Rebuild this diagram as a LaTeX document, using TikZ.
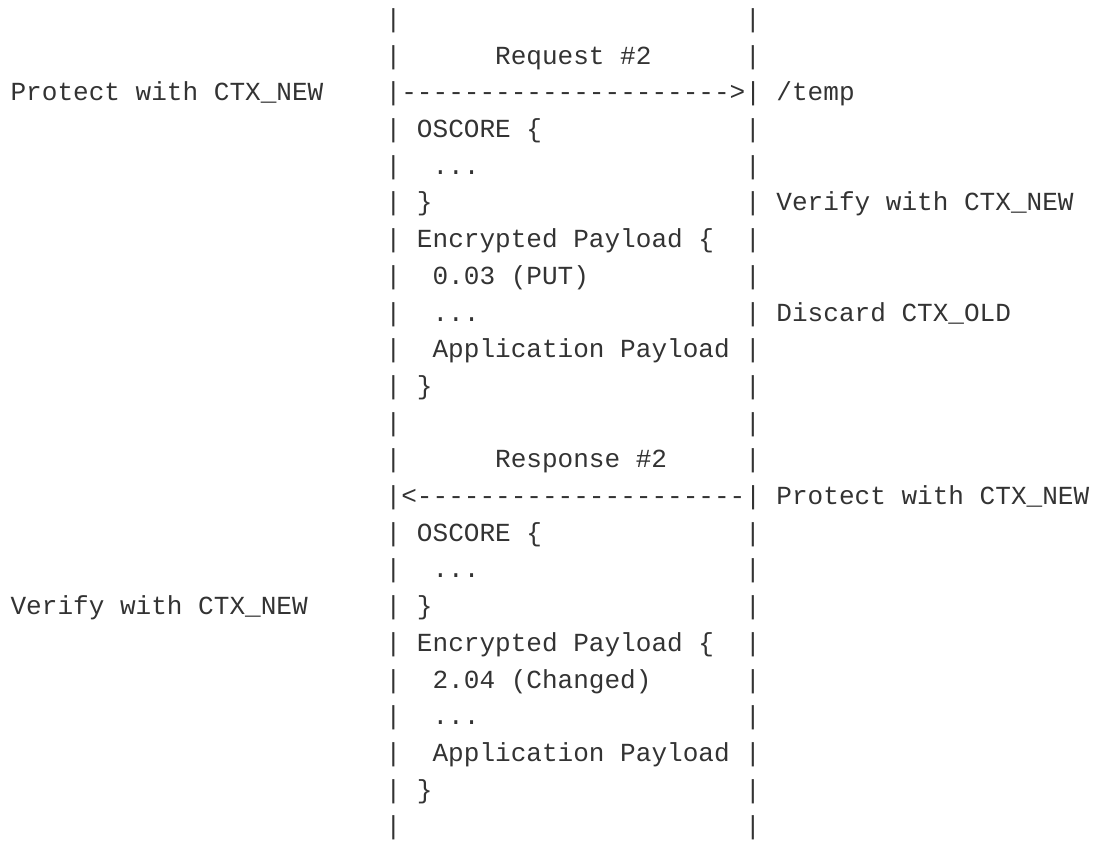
\documentclass[tikz,border=0pt]{standalone}
\usepackage{fontspec}
\setmonofont{Liberation Mono}
\usepackage{tikz}
\definecolor{asciiink}{HTML}{333333}

\begin{document}
\begin{tikzpicture}[
  x=7.815pt, y=-18.35pt,
  txt/.style={anchor=base west, inner sep=0pt, outer sep=0pt, text=asciiink,
              font=\ttfamily\fontsize{13.03pt}{18pt}\selectfont},
  bar/.style={txt}
]
\useasboundingbox (-5.3pt,13.75pt) rectangle (541.7pt,-408.25pt);

\foreach \r in {0,1,3,4,5,6,7,8,9,10,11,12,14,15,16,17,18,19,20,21,22} {
  \node[bar] (cbar\r) at (24,\r) {|};
  \node[bar] (sbar\r) at (47,\r) {|};
}

\node[txt] (reqlabel) at (31,1) {Request \#2};
\node[txt] (cprotect) at (0,2) {Protect with CTX\_NEW};
\node[txt] (reqarrow) at (24,2) {|--------------------->|};
\node[txt] (uripath) at (49,2) {/temp};
\node[txt] (reqoscore) at (26,3) {OSCORE \{};
\node[txt] (reqodots) at (27,4) {...};
\node[txt] (reqoend) at (26,5) {\}};
\node[txt] (sverify) at (49,5) {Verify with CTX\_NEW};
\node[txt] (reqenc) at (26,6) {Encrypted Payload \{};
\node[txt] (reqcode) at (27,7) {0.03 (PUT)};
\node[txt] (reqedots) at (27,8) {...};
\node[txt] (sdiscard) at (49,8) {Discard CTX\_OLD};
\node[txt] (reqapp) at (27,9) {Application Payload};
\node[txt] (reqeend) at (26,10) {\}};

\node[txt] (resplabel) at (31,12) {Response \#2};
\node[txt] (resparrow) at (24,13) {|<---------------------|};
\node[txt] (sprotect) at (49,13) {Protect with CTX\_NEW};
\node[txt] (resposcore) at (26,14) {OSCORE \{};
\node[txt] (respodots) at (27,15) {...};
\node[txt] (cverify) at (0,16) {Verify with CTX\_NEW};
\node[txt] (respoend) at (26,16) {\}};
\node[txt] (respenc) at (26,17) {Encrypted Payload \{};
\node[txt] (respcode) at (27,18) {2.04 (Changed)};
\node[txt] (respedots) at (27,19) {...};
\node[txt] (respapp) at (27,20) {Application Payload};
\node[txt] (respeend) at (26,21) {\}};
\end{tikzpicture}
\end{document}
